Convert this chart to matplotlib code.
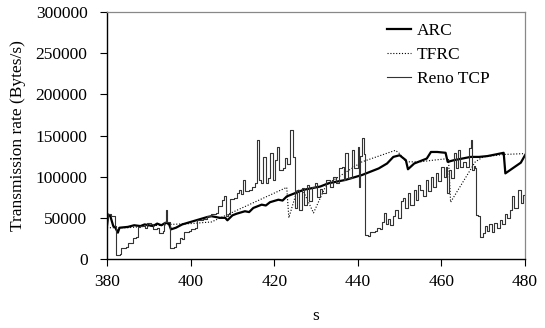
import matplotlib
matplotlib.use("Agg")
import matplotlib.pyplot as plt

plt.rcParams['font.family'] = ['Liberation Serif', 'DejaVu Serif']

# ---- data ----
arc_t = [380, 380.3, 380.8, 381.5, 382, 382.6, 383, 385, 386.5, 388, 389, 391, 392, 393, 394, 394.8, 395.3,
         396.5, 398, 400, 402, 404, 405, 407, 408.3, 408.8, 410, 411, 413, 414, 415, 417, 418, 419, 421,
         422, 423, 425, 427, 429, 431, 433, 435, 437, 439, 441, 443, 445, 447, 448.5, 450, 451.5, 452,
         453.5, 455, 456.5, 457.5, 459, 461, 461.5, 463, 465, 467, 469, 471, 473, 474.9, 475.3, 477,
         479, 480]
arc_v = [40000, 54000, 52000, 40000, 38000, 32000, 38000, 39000, 41000, 40000, 42000, 40000, 43000, 41000,
         44000, 43000, 36000, 38000, 42000, 45000, 48000, 51000, 52000, 50000, 50000, 47000, 53000, 55000,
         58000, 57000, 62000, 66000, 65000, 69000, 72000, 71000, 76000, 80000, 84000, 86000, 88000, 92000,
         94000, 96000, 99000, 102000, 106000, 110000, 116000, 124000, 126000, 120000, 109000, 116000,
         119000, 122000, 130000, 130000, 129000, 118000, 120000, 122000, 124000, 124000, 125000, 127000,
         129000, 104000, 110000, 117000, 126000]

tfrc_t = [380, 385, 390, 395, 400, 405, 423, 423.5, 425.5, 427, 429.4, 432, 433, 441, 449, 450, 451.5,
          455, 458, 461.7, 462.2, 468.1, 470, 475, 480]
tfrc_v = [38000, 38000, 40000, 42000, 43000, 45000, 87000, 50000, 84000, 82000, 56000, 85000, 92000,
          118000, 132000, 128000, 118000, 118000, 120000, 122000, 69000, 118000, 124000, 127000, 128000]

reno_t = [380, 380.3, 381, 381.8, 382.2, 383, 383.3, 384.5, 385, 386, 386.3, 387, 387.4, 388, 389, 389.5,
          390.5, 391, 392, 392.5, 393.3, 393.6, 394, 394.4, 395, 396, 396.5, 397.5, 398, 398.5, 399.5, 400,
          401, 401.5, 403, 404, 405, 406, 406.5, 407.5, 408, 408.5, 409, 409.5, 410.5, 411, 411.5, 412,
          412.6, 413, 414, 414.7, 415.3, 415.9, 416.3, 416.8, 417.4, 418, 418.5, 419, 419.6, 420.2, 420.6,
          421.2, 422, 422.6, 423.1, 423.8, 424.5, 425, 425.5, 426, 426.7, 427.2, 427.8, 428.3, 429, 429.8,
          430.3, 431, 431.5, 432.5, 433.3, 434, 434.8, 435.5, 436.2, 436.6, 437, 437.6, 438.6, 439.2, 440,
          440.2, 440.6, 441, 441.5, 441.8, 442.5, 443, 444, 444.5, 445.2, 445.7, 446.3, 446.7, 447.3, 447.8,
          448.5, 449, 449.6, 450.4, 450.8, 451.4, 452, 452.6, 453.4, 454, 454.5, 455, 455.5, 456.2, 456.8,
          457.4, 458, 458.6, 459.3, 460, 460.6, 461.1, 461.4, 461.8, 462.4, 462.9, 463.4, 464, 464.5, 465.2,
          465.8, 466.5, 467, 467.4, 467.8, 468.1, 468.2, 468.8, 469.2, 470, 470.4, 471, 471.5, 472.2, 472.7,
          473.3, 474, 474.6, 475.2, 475.8, 476.4, 476.9, 477.4, 478.4, 479, 479.6, 480]
reno_v = [48000, 55000, 52000, 40000, 5000, 6000, 13000, 15000, 19000, 20000, 26000, 27000, 39000, 40000,
          38000, 44000, 42000, 36000, 38000, 32000, 34000, 45000, 59000, 45000, 13000, 14000, 20000, 25000,
          24000, 33000, 34000, 37000, 38000, 47000, 48000, 52000, 55000, 56000, 64000, 72000, 76000, 52000,
          55000, 73000, 74000, 80000, 84000, 79000, 96000, 82000, 84000, 88000, 92000, 145000, 96000, 92000,
          124000, 92000, 98000, 129000, 96000, 120000, 136000, 108000, 110000, 123000, 115000, 157000,
          124000, 62000, 84000, 60000, 86000, 65000, 90000, 70000, 88000, 92000, 75000, 85000, 80000, 96000,
          88000, 100000, 92000, 110000, 112000, 96000, 129000, 98000, 132000, 110000, 136000, 88000, 125000,
          147000, 128000, 29000, 28000, 33000, 34000, 38000, 37000, 45000, 56000, 42000, 48000, 41000, 52000,
          59000, 50000, 70000, 74000, 62000, 80000, 66000, 84000, 72000, 90000, 84000, 77000, 96000, 82000,
          100000, 88000, 104000, 95000, 112000, 100000, 112000, 80000, 108000, 98000, 129000, 110000, 132000,
          112000, 118000, 112000, 135000, 145000, 108000, 113000, 110000, 53000, 52000, 27000, 31000, 40000,
          34000, 42000, 33000, 44000, 38000, 47000, 43000, 55000, 50000, 60000, 76000, 62000, 84000, 68000,
          78000, 73000]

x_ticks = [380, 400, 420, 440, 460, 480]
y_ticks = [0, 50000, 100000, 150000, 200000, 250000, 300000]

fig = plt.figure(figsize=(5.45, 3.28), dpi=100)
ax = fig.add_axes([107/545, 1-259/328, (525-107)/545, (259-12)/328])

ax.plot(arc_t, arc_v, color='black', lw=1.6, label='ARC')
ax.plot(tfrc_t, tfrc_v, color='black', lw=0.8, linestyle=(0, (1, 1.6)), label='TFRC')
ax.plot(reno_t, reno_v, color='#333333', lw=0.8, label='Reno TCP', drawstyle='steps-post')

ax.set_xlim(380, 480)
ax.set_ylim(0, 300000)
ax.set_xticks(x_ticks)
ax.set_yticks(y_ticks)
ax.set_xticklabels([str(v) for v in x_ticks])
ax.set_yticklabels([str(v) for v in y_ticks])
ax.tick_params(axis='both', direction='out', length=5, width=0.8, labelsize=12.5, color='black')
ax.tick_params(axis='x', pad=6)
ax.tick_params(axis='y', pad=9)

for s in ['left', 'bottom']:
    ax.spines[s].set_color('black')
    ax.spines[s].set_linewidth(1.0)
for s in ['top', 'right']:
    ax.spines[s].set_color('#888888')
    ax.spines[s].set_linewidth(0.9)

ax.set_ylabel('Transmission rate (Bytes/s)', fontsize=12.5, labelpad=7)
ax.set_xlabel('s', fontsize=12.5, labelpad=13)

leg = ax.legend(loc='upper left', bbox_to_anchor=(387/545, 1-23/328), bbox_transform=fig.transFigure,
                frameon=False, fontsize=12.5, handlelength=1.4, handletextpad=0.3, labelspacing=0.45,
                borderaxespad=0, borderpad=0)

fig.savefig('out.png', dpi=100)
